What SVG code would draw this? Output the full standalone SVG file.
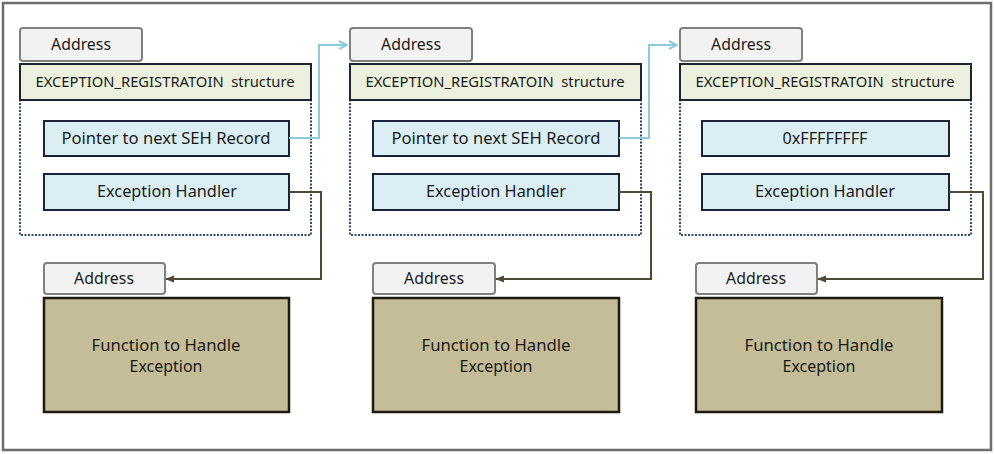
<svg xmlns="http://www.w3.org/2000/svg" width="994" height="454" viewBox="0 0 994 454">
<defs>
<style>
.addr{fill:#f2f2f2;stroke:#808080;stroke-width:2}
.st{fill:#ebf1de;stroke:#1c2530;stroke-width:2}
.dot{fill:none;stroke:#2f4a6e;stroke-width:2;stroke-dasharray:2 1.5}
.fld{fill:#dbeef4;stroke:#17243a;stroke-width:2}
.fn{fill:#c4bd97;stroke:#1d1b10;stroke-width:2.5}
text{font-family:"Noto Sans","Open Sans","DejaVu Sans",sans-serif;fill:#1a1a1a;text-anchor:middle;white-space:pre}
.t15{font-size:16px}
.t13{font-size:14px}
.blue{fill:none;stroke:#8ccbdc;stroke-width:2}
.brown{fill:none;stroke:#4f4a36;stroke-width:2}
</style>
<marker id="ab" viewBox="0 0 10 10" refX="9" refY="5" markerWidth="10" markerHeight="10" markerUnits="userSpaceOnUse" orient="auto">
<path d="M1,1 L9,5 L1,9" fill="none" stroke="#8ccbdc" stroke-width="2"/>
</marker>
<marker id="ar" viewBox="0 0 10 10" refX="9" refY="5" markerWidth="9" markerHeight="9" markerUnits="userSpaceOnUse" orient="auto">
<path d="M0,1 L10,5 L0,9 Z" fill="#4f4a36"/>
</marker>
</defs>
<rect x="3" y="3" width="988" height="447" fill="#fff" stroke="#6d6d6d" stroke-width="2.5"/>

<g id="col1">
<g id="addr1"><rect class="addr" x="20" y="28" width="122" height="33" rx="3"/><text class="t15" x="81" y="50" textLength="60" lengthAdjust="spacingAndGlyphs">Address</text></g>
<g id="struct1"><rect class="dot" x="20" y="100" width="291" height="135"/><rect class="st" x="20" y="64" width="291" height="36"/><text class="t13" x="165" y="87" textLength="259" lengthAdjust="spacingAndGlyphs" xml:space="preserve">EXCEPTION_REGISTRATOIN  structure</text></g>
<g id="next1"><rect class="fld" x="44" y="121" width="245" height="35"/><text class="t15" x="166" y="144" textLength="209" lengthAdjust="spacingAndGlyphs">Pointer to next SEH Record</text></g>
<g id="handler1"><rect class="fld" x="44" y="174" width="245" height="36"/><text class="t15" x="167" y="197" textLength="140" lengthAdjust="spacingAndGlyphs">Exception Handler</text></g>
<g id="faddr1"><rect class="addr" x="44" y="263" width="121" height="31" rx="3"/><text class="t15" x="104" y="284" textLength="60" lengthAdjust="spacingAndGlyphs">Address</text></g>
<g id="func1"><rect class="fn" x="44" y="298" width="245" height="114"/><text class="t15" x="166" y="351" textLength="149" lengthAdjust="spacingAndGlyphs">Function to Handle</text><text class="t15" x="166" y="372" textLength="73" lengthAdjust="spacingAndGlyphs">Exception</text></g>
</g>

<g id="col2">
<g id="addr2"><rect class="addr" x="350" y="28" width="122" height="33" rx="3"/><text class="t15" x="411" y="50" textLength="60" lengthAdjust="spacingAndGlyphs">Address</text></g>
<g id="struct2"><rect class="dot" x="350" y="100" width="291" height="135"/><rect class="st" x="350" y="64" width="291" height="36"/><text class="t13" x="495" y="87" textLength="259" lengthAdjust="spacingAndGlyphs" xml:space="preserve">EXCEPTION_REGISTRATOIN  structure</text></g>
<g id="next2"><rect class="fld" x="373" y="121" width="246" height="35"/><text class="t15" x="496" y="144" textLength="209" lengthAdjust="spacingAndGlyphs">Pointer to next SEH Record</text></g>
<g id="handler2"><rect class="fld" x="373" y="174" width="246" height="36"/><text class="t15" x="496" y="197" textLength="140" lengthAdjust="spacingAndGlyphs">Exception Handler</text></g>
<g id="faddr2"><rect class="addr" x="373" y="263" width="122" height="31" rx="3"/><text class="t15" x="434" y="284" textLength="60" lengthAdjust="spacingAndGlyphs">Address</text></g>
<g id="func2"><rect class="fn" x="373" y="298" width="246" height="114"/><text class="t15" x="496" y="351" textLength="149" lengthAdjust="spacingAndGlyphs">Function to Handle</text><text class="t15" x="496" y="372" textLength="73" lengthAdjust="spacingAndGlyphs">Exception</text></g>
</g>

<g id="col3">
<g id="addr3"><rect class="addr" x="680" y="28" width="122" height="33" rx="3"/><text class="t15" x="741" y="50" textLength="60" lengthAdjust="spacingAndGlyphs">Address</text></g>
<g id="struct3"><rect class="dot" x="680" y="100" width="291" height="135"/><rect class="st" x="680" y="64" width="291" height="36"/><text class="t13" x="825" y="87" textLength="259" lengthAdjust="spacingAndGlyphs" xml:space="preserve">EXCEPTION_REGISTRATOIN  structure</text></g>
<g id="next3"><rect class="fld" x="702" y="121" width="247" height="35"/><text class="t15" x="825" y="144" textLength="85" lengthAdjust="spacingAndGlyphs">0xFFFFFFFF</text></g>
<g id="handler3"><rect class="fld" x="702" y="174" width="247" height="36"/><text class="t15" x="825" y="197" textLength="140" lengthAdjust="spacingAndGlyphs">Exception Handler</text></g>
<g id="faddr3"><rect class="addr" x="696" y="263" width="121" height="31" rx="3"/><text class="t15" x="756" y="284" textLength="60" lengthAdjust="spacingAndGlyphs">Address</text></g>
<g id="func3"><rect class="fn" x="696" y="298" width="246" height="114"/><text class="t15" x="819" y="351" textLength="149" lengthAdjust="spacingAndGlyphs">Function to Handle</text><text class="t15" x="819" y="372" textLength="73" lengthAdjust="spacingAndGlyphs">Exception</text></g>
</g>

<g id="connectors">
<path class="blue" d="M289,138 H319 V45 H347" marker-end="url(#ab)"/>
<path class="blue" d="M619,138 H649 V45 H677" marker-end="url(#ab)"/>
<path class="brown" d="M289,192 H321 V279 H166" marker-end="url(#ar)"/>
<path class="brown" d="M619,192 H651 V279 H496" marker-end="url(#ar)"/>
<path class="brown" d="M949,192 H983 V279 H818" marker-end="url(#ar)"/>
</g>
</svg>
